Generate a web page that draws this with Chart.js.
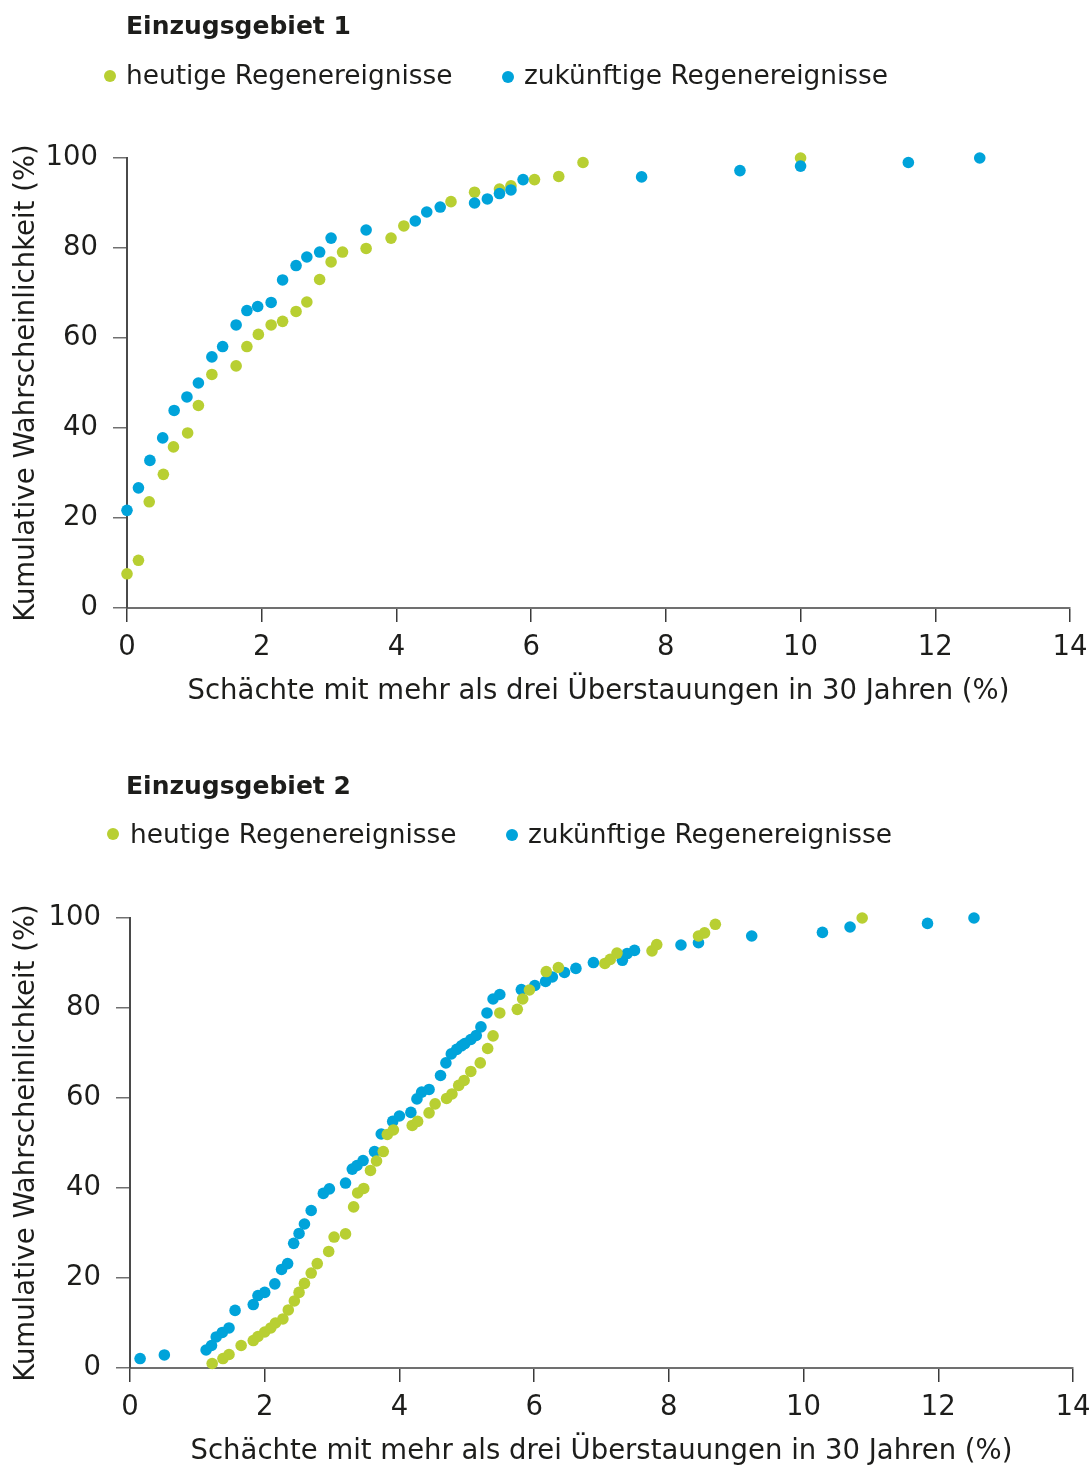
<!DOCTYPE html>
<html><head><meta charset="utf-8">
<script src="https://cdn.jsdelivr.net/npm/chart.js@4.4.1/dist/chart.umd.min.js"></script>
<style>
html,body{margin:0;padding:0;background:#fff;overflow:hidden;}
#page{position:relative;width:1091px;height:1465px;overflow:hidden;font-family:"DejaVu Sans";color:#1d1d1b;background:#fff;}
.panel{position:absolute;left:0;width:1091px;height:720px;}
.title{position:absolute;font-weight:bold;font-size:25px;line-height:25px;white-space:nowrap;}
.leg{position:absolute;font-size:26.4px;line-height:26px;white-space:nowrap;}
.dot{position:absolute;width:12px;height:12px;border-radius:50%;}
</style>
</head>
<body>
<div id="page">
  <div class="panel" style="top:0"><canvas id="c1"></canvas></div>
  <div class="panel" style="top:760px"><canvas id="c2"></canvas></div>

  <div class="title" style="left:126px;top:13px">Einzugsgebiet 1</div>
  <div class="dot" style="left:104px;top:70px;background:#b8cf32"></div>
  <div class="leg" style="left:126px;top:61.5px">heutige Regenereignisse</div>
  <div class="dot" style="left:502px;top:71px;background:#00a3da"></div>
  <div class="leg" style="left:524px;top:61.5px">zukünftige Regenereignisse</div>

  <div class="title" style="left:126px;top:773px">Einzugsgebiet 2</div>
  <div class="dot" style="left:107px;top:828px;background:#b8cf32"></div>
  <div class="leg" style="left:130px;top:821px">heutige Regenereignisse</div>
  <div class="dot" style="left:506px;top:829px;background:#00a3da"></div>
  <div class="leg" style="left:528px;top:821px">zukünftige Regenereignisse</div>
</div>
<script>
// ---- Data ----
const seriesLabels = ["heutige Regenereignisse", "zukünftige Regenereignisse"];
const xTitle = "Schächte mit mehr als drei Überstauungen in 30 Jahren (%)";
const yTitle = "Kumulative Wahrscheinlichkeit (%)";

// Einzugsgebiet 1
const heute1X = [0, 0.17, 0.33, 0.54, 0.69, 0.90, 1.06, 1.26, 1.62, 1.78, 1.95, 2.14, 2.31, 2.51, 2.67, 2.86, 3.03, 3.20, 3.55, 3.92, 4.11, 4.81, 5.16, 5.53, 5.70, 6.05, 6.41, 6.77, 10.0];
const heute1Y = [7.6, 10.6, 23.6, 29.7, 35.8, 38.9, 45.0, 51.9, 53.8, 58.1, 60.8, 62.9, 63.7, 65.9, 68.0, 73.0, 76.9, 79.1, 79.9, 82.2, 84.9, 90.3, 92.4, 93.1, 93.8, 95.2, 95.9, 99.0, 100];
const zukunft1X = [0, 0.17, 0.34, 0.53, 0.70, 0.89, 1.06, 1.26, 1.42, 1.62, 1.78, 1.94, 2.14, 2.31, 2.51, 2.67, 2.86, 3.03, 3.55, 4.28, 4.45, 4.65, 5.16, 5.35, 5.53, 5.70, 5.88, 7.64, 9.10, 10.0, 11.60, 12.66];
const zukunft1Y = [21.7, 26.7, 32.8, 37.8, 43.9, 46.9, 50.0, 55.8, 58.1, 62.9, 66.1, 67.0, 67.9, 72.9, 76.1, 78.0, 79.1, 82.2, 84.0, 86.0, 88.0, 89.1, 90.0, 90.9, 92.1, 92.9, 95.2, 95.8, 97.2, 98.2, 99.0, 100];

// Einzugsgebiet 2
const heute2X = [1.22, 1.38, 1.47, 1.65, 1.83, 1.90, 2.00, 2.09, 2.16, 2.27, 2.35, 2.44, 2.51, 2.59, 2.69, 2.78, 2.95, 3.03, 3.20, 3.32, 3.38, 3.47, 3.57, 3.66, 3.76, 3.82, 3.91, 4.19, 4.27, 4.44, 4.53, 4.70, 4.78, 4.88, 4.96, 5.06, 5.20, 5.31, 5.39, 5.49, 5.75, 5.83, 5.93, 6.18, 6.36, 7.05, 7.13, 7.23, 7.75, 7.82, 8.44, 8.53, 8.69, 10.87];
const heute2Y = [1.0, 2.1, 3.0, 5.0, 6.1, 7.0, 8.0, 8.9, 10.0, 10.9, 12.9, 14.9, 16.8, 18.8, 21.1, 23.2, 25.9, 29.1, 29.8, 35.8, 38.9, 39.9, 43.9, 46.0, 48.1, 51.9, 52.9, 53.9, 54.8, 56.7, 58.7, 59.9, 60.9, 62.8, 63.9, 65.9, 67.8, 71.0, 73.8, 78.9, 79.7, 82.0, 84.0, 88.1, 89.0, 89.9, 90.8, 92.2, 92.7, 94.1, 96.0, 96.7, 98.6, 100];
const zukunft2X = [0.15, 0.51, 1.13, 1.21, 1.28, 1.37, 1.47, 1.56, 1.83, 1.90, 2.00, 2.15, 2.25, 2.34, 2.43, 2.51, 2.59, 2.69, 2.87, 2.96, 3.20, 3.30, 3.37, 3.46, 3.63, 3.73, 3.90, 4.00, 4.17, 4.26, 4.33, 4.44, 4.61, 4.69, 4.77, 4.85, 4.92, 4.97, 5.06, 5.14, 5.21, 5.30, 5.39, 5.49, 5.81, 6.01, 6.17, 6.27, 6.45, 6.62, 6.88, 7.31, 7.38, 7.49, 8.18, 8.44, 9.23, 10.28, 10.69, 11.84, 12.53];
const zukunft2Y = [2.1, 2.9, 4.0, 5.0, 6.9, 7.9, 8.9, 12.8, 14.1, 16.1, 16.8, 18.7, 21.9, 23.2, 27.7, 29.9, 32.0, 35.0, 38.8, 39.8, 41.1, 44.2, 45.0, 46.1, 48.1, 52.0, 54.8, 56.0, 56.8, 59.8, 61.3, 61.9, 65.0, 67.8, 69.8, 70.8, 71.6, 72.1, 73.0, 73.9, 75.8, 78.9, 82.0, 83.0, 84.1, 85.0, 85.9, 86.9, 87.9, 88.8, 90.1, 90.6, 92.1, 92.8, 94.0, 94.5, 96.0, 96.8, 98.0, 98.8, 100];

// ---- Styling ----
const GREEN = '#b8cf32';
const BLUE = '#00a3da';
const TEXT = '#1d1d1b';
const FONT = 'DejaVu Sans';

function pts(xs, ys) { return xs.map((x, i) => ({ x: x, y: ys[i] })); }

function noPad(s) { s.paddingLeft = 0; s.paddingRight = 0; s.paddingTop = 0; s.paddingBottom = 0; }

function makeChart(id, gx, gy, bx, by, yAxisWidth, rightPad, greenOnTop) {
  const ds = (label, data, color, order) => ({
    label, data, order,
    backgroundColor: color, borderColor: color,
    pointRadius: 5.8, pointHoverRadius: 5.8, pointBorderWidth: 0,
    showLine: false, clip: false
  });
  return new Chart(document.getElementById(id), {
    type: 'scatter',
    data: {
      datasets: [
        ds(seriesLabels[0], pts(gx, gy), GREEN, greenOnTop ? 1 : 2),
        ds(seriesLabels[1], pts(bx, by), BLUE, greenOnTop ? 2 : 1)
      ]
    },
    options: {
      responsive: true,
      maintainAspectRatio: false,
      animation: false,
      events: [],
      layout: { autoPadding: false, padding: { top: 158, right: rightPad, left: 0, bottom: 0 } },
      plugins: { legend: { display: false }, title: { display: false }, tooltip: { enabled: false } },
      scales: {
        x: {
          type: 'linear', min: 0, max: 14,
          afterFit: s => { s.height = 112; noPad(s); },
          ticks: { stepSize: 2, color: TEXT, padding: 9, font: { family: FONT, size: 27.5 } },
          grid: { display: true, drawOnChartArea: false, drawTicks: true, tickLength: 14, color: '#3a3a3a', lineWidth: 1.5 },
          border: { display: true, color: '#707070', width: 2 },
          title: { display: true, text: xTitle, color: TEXT, font: { family: FONT, size: 27.5 }, padding: { top: 0, bottom: 12 } }
        },
        y: {
          type: 'linear', min: 0, max: 100,
          afterFit: s => { s.width = yAxisWidth; noPad(s); },
          ticks: { stepSize: 20, color: TEXT, padding: 15, font: { family: FONT, size: 27.5 } },
          grid: { display: true, drawOnChartArea: false, drawTicks: true, tickLength: 14, color: '#707070', lineWidth: 1.5 },
          border: { display: true, color: '#4a4a4a', width: 2 },
          title: { display: true, text: yTitle, color: TEXT, font: { family: FONT, size: 27.5 }, padding: { top: 10, bottom: 0 } }
        }
      }
    }
  });
}

makeChart('c1', heute1X, heute1Y, zukunft1X, zukunft1Y, 127, 21, false);
makeChart('c2', heute2X, heute2Y, zukunft2X, zukunft2Y, 130, 18, true);
</script>
</body></html>
